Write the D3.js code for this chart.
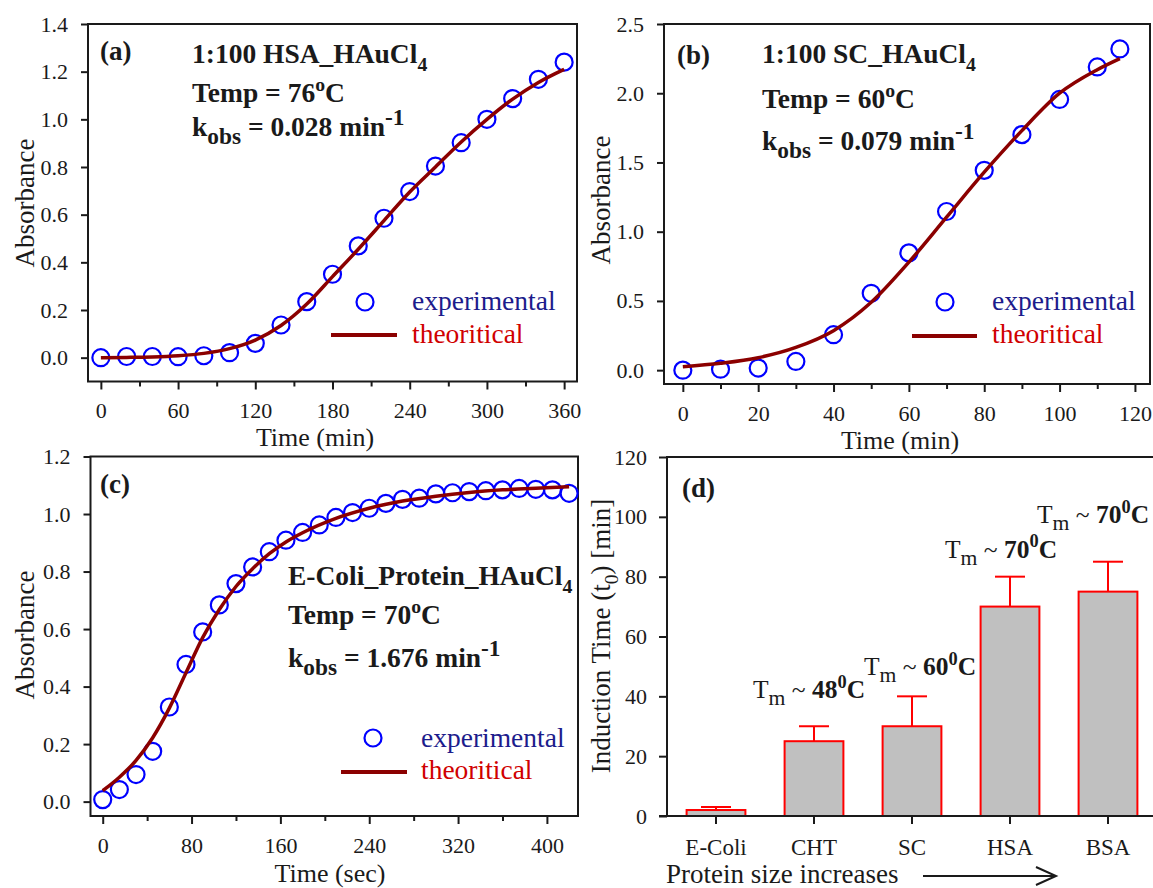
<!DOCTYPE html>
<html>
<head>
<meta charset="utf-8">
<script src="https://cdn.jsdelivr.net/npm/d3@7"></script>
<style>
  body { margin: 0; background: #fff; }
  text { font-family: "Liberation Serif", "Times New Roman", serif; }
</style>
</head>
<body>
<div id="chart"></div>
<script>
// ---- data ----
// (a) HSA
var timeA = [0, 20, 40, 60, 80, 100, 120, 140, 160, 180, 200, 220, 240, 260, 280, 300, 320, 340, 360];
var absA = [0.0, 0.005, 0.005, 0.004, 0.008, 0.021, 0.06, 0.137, 0.235, 0.35, 0.469, 0.585, 0.697, 0.804, 0.902, 1.0, 1.087, 1.168, 1.24];
var fitTimeA = [0, 20, 40, 60, 80, 100, 120, 140, 160, 180, 200, 220, 240, 260, 280, 300, 320, 340, 360];
var fitA = [0.0, 0.001, 0.003, 0.008, 0.018, 0.038, 0.074, 0.135, 0.225, 0.34, 0.455, 0.575, 0.695, 0.8, 0.905, 1.0, 1.085, 1.155, 1.21];

// (b) SC
var timeB = [0, 10, 20, 30, 40, 50, 60, 70, 80, 90, 100, 110, 116];
var absB = [0.0, 0.007, 0.015, 0.063, 0.256, 0.555, 0.847, 1.146, 1.443, 1.701, 1.955, 2.19, 2.32];
var fitTimeB = [0, 10, 20, 30, 40, 50, 60, 70, 80, 90, 100, 110, 116];
var fitB = [0.025, 0.05, 0.09, 0.164, 0.285, 0.49, 0.78, 1.105, 1.43, 1.73, 2.0, 2.17, 2.25];

// (c) E-Coli
var timeC = [0, 15, 30, 45, 60, 75, 90, 105, 120, 135, 150, 165, 180, 195, 210, 225, 240, 255, 270, 285, 300, 315, 330, 345, 360, 375, 390, 405, 420];
var absC = [0.007, 0.042, 0.094, 0.175, 0.329, 0.477, 0.59, 0.684, 0.758, 0.816, 0.869, 0.909, 0.936, 0.962, 0.988, 1.005, 1.02, 1.037, 1.051, 1.055, 1.07, 1.074, 1.078, 1.081, 1.084, 1.089, 1.086, 1.084, 1.072];
var fitTimeC = [0, 15, 30, 45, 60, 75, 90, 105, 120, 135, 150, 165, 180, 210, 240, 270, 300, 330, 360, 390, 420];
var fitC = [0.038, 0.085, 0.143, 0.222, 0.325, 0.448, 0.57, 0.668, 0.748, 0.81, 0.862, 0.903, 0.935, 0.985, 1.02, 1.045, 1.062, 1.075, 1.084, 1.09, 1.095];

// (d) induction time
var proteins = ["E-Coli", "CHT", "SC", "HSA", "BSA"];
var inductionTime = [2, 25, 30, 70, 75];
var inductionErr = [1, 5, 10, 10, 10];
var tmValues = [null, "48", "60", "70", "70"];

var ticksA = [0, 60, 120, 180, 240, 300, 360];
var ticksB = [0, 20, 40, 60, 80, 100, 120];
var ticksC = [0, 80, 160, 240, 320, 400];

// ---- drawing ----
var svg = d3.select("#chart").append("svg")
  .attr("width", 1153)
  .attr("height", 888);

var ink = "#1a1a1a";

function rich(sel, x, y, parts, size, weight, fill) {
  var t = sel.append("text")
    .attr("x", x).attr("y", y)
    .attr("font-size", size)
    .attr("font-weight", weight)
    .attr("fill", fill);
  var shift = 0;
  parts.forEach(function (p) {
    var kind = p[1];
    var target = kind === "sub" ? size * 0.28 : kind === "sup" ? -size * 0.4 : 0;
    var ts = t.append("tspan").attr("dy", target - shift).text(p[0]);
    if (kind) ts.attr("font-size", size * (p[3] || 0.72));
    if (p[2]) ts.attr("font-weight", p[2]);
    shift = target;
  });
  return t;
}

function styleAxis(g, size) {
  g.select(".domain").remove();
  g.selectAll("line").attr("stroke", ink).attr("stroke-width", 2);
  g.selectAll("text")
    .attr("font-family", "Liberation Serif")
    .attr("font-size", size)
    .attr("fill", ink);
}

function kineticsPanel(cfg) {
  var x = d3.scaleLinear().domain(cfg.xDomain).range(cfg.xRange);
  var y = d3.scaleLinear().domain(cfg.yDomain).range(cfg.yRange);
  var g = svg.append("g");

  // minor x ticks
  var gMinor = g.append("g")
    .attr("transform", "translate(0," + cfg.yRange[0] + ")")
    .call(d3.axisBottom(x).tickValues(cfg.minorTicks).tickSize(5).tickFormat(""));
  styleAxis(gMinor, 22);

  var gx = g.append("g")
    .attr("transform", "translate(0," + cfg.yRange[0] + ")")
    .call(d3.axisBottom(x).tickValues(cfg.xTicks).tickSize(8).tickPadding(13).tickFormat(d3.format("d")));
  styleAxis(gx, 22);

  var gy = g.append("g")
    .attr("transform", "translate(" + cfg.xRange[0] + ",0)")
    .call(d3.axisLeft(y).tickValues(cfg.yTicks).tickSize(7).tickPadding(13).tickFormat(d3.format(".1f")));
  styleAxis(gy, 22);

  // frame
  g.append("rect")
    .attr("x", cfg.xRange[0]).attr("y", cfg.yRange[1])
    .attr("width", cfg.xRange[1] - cfg.xRange[0])
    .attr("height", cfg.yRange[0] - cfg.yRange[1])
    .attr("fill", "none").attr("stroke", ink).attr("stroke-width", 2);

  // points
  g.selectAll("circle.pt")
    .data(cfg.t.map(function (d, i) { return [d, cfg.v[i]]; }))
    .enter().append("circle")
    .attr("class", "pt")
    .attr("cx", function (d) { return x(d[0]); })
    .attr("cy", function (d) { return y(d[1]); })
    .attr("r", 8.5)
    .attr("fill", "none")
    .attr("stroke", "#0000ff")
    .attr("stroke-width", 2.2);

  // fitted curve
  var line = d3.line()
    .x(function (d) { return x(d[0]); })
    .y(function (d) { return y(d[1]); })
    .curve(d3.curveMonotoneX);
  g.append("path")
    .datum(cfg.ft.map(function (d, i) { return [d, cfg.fv[i]]; }))
    .attr("d", line)
    .attr("fill", "none")
    .attr("stroke", "#8b0000")
    .attr("stroke-width", 3.5);

  // axis titles
  g.append("text")
    .attr("x", cfg.xTitle[0]).attr("y", cfg.xTitle[1])
    .attr("text-anchor", "middle")
    .attr("font-size", 26).attr("fill", ink)
    .text(cfg.xLabel);
  g.append("text")
    .attr("transform", "translate(" + cfg.yTitle[0] + "," + cfg.yTitle[1] + ") rotate(-90)")
    .attr("text-anchor", "middle")
    .attr("font-size", 27).attr("fill", ink)
    .text("Absorbance");

  // panel letter + annotations
  g.append("text")
    .attr("x", cfg.letterPos[0]).attr("y", cfg.letterPos[1])
    .attr("font-size", 27).attr("font-weight", "bold").attr("fill", ink)
    .text(cfg.letter);

  var ax = cfg.notePos[0];
  rich(g, ax, cfg.notePos[1], [[cfg.title, ""], [cfg.titleSub, "sub"]], 27.5, "bold", ink);
  rich(g, ax, cfg.notePos[2], [["Temp = " + cfg.temp, ""], ["o", "sup"], ["C", ""]], 27.5, "bold", ink);
  rich(g, ax, cfg.notePos[3], [["k", ""], ["obs", "sub", null, 0.85], [" = " + cfg.kobs + " min", ""], ["-1", "sup", null, 0.85]], 27.5, "bold", ink);

  // legend
  var L = cfg.legend;
  g.append("circle")
    .attr("cx", L.cx).attr("cy", L.cy).attr("r", 8.5)
    .attr("fill", "none").attr("stroke", "#0000ff").attr("stroke-width", 2.2);
  g.append("text")
    .attr("x", L.tx).attr("y", L.ty1)
    .attr("font-size", 27.5).attr("fill", "#1c1c8c")
    .text("experimental");
  g.append("line")
    .attr("x1", L.lx1).attr("x2", L.lx2).attr("y1", L.ly).attr("y2", L.ly)
    .attr("stroke", "#8b0000").attr("stroke-width", 4);
  g.append("text")
    .attr("x", L.tx).attr("y", L.ty2)
    .attr("font-size", 27.5).attr("fill", "#d00000")
    .text("theoritical");
}

kineticsPanel({
  t: timeA, v: absA, ft: fitTimeA, fv: fitA,
  xDomain: [-10, 370], xRange: [88, 577],
  yDomain: [-0.1, 1.4], yRange: [381.5, 24],
  xTicks: ticksA, minorTicks: [30, 90, 150, 210, 270, 330],
  yTicks: d3.range(0, 1.41, 0.2),
  xLabel: "Time (min)", xTitle: [315, 446], yTitle: [34, 203],
  letter: "(a)", letterPos: [100, 60],
  title: "1:100 HSA_HAuCl", titleSub: "4", temp: "76", kobs: "0.028",
  notePos: [192, 63, 102, 136],
  legend: { cx: 365, cy: 302, tx: 412, ty1: 310, ty2: 343, lx1: 331, lx2: 397, ly: 335 }
});

kineticsPanel({
  t: timeB, v: absB, ft: fitTimeB, fv: fitB,
  xDomain: [-5, 124], xRange: [664, 1150],
  yDomain: [-0.1, 2.5], yRange: [384, 24],
  xTicks: ticksB, minorTicks: [10, 30, 50, 70, 90, 110],
  yTicks: [0, 0.5, 1.0, 1.5, 2.0, 2.5],
  xLabel: "Time (min)", xTitle: [900, 448.5], yTitle: [610, 200],
  letter: "(b)", letterPos: [677, 64],
  title: "1:100 SC_HAuCl", titleSub: "4", temp: "60", kobs: "0.079",
  notePos: [762, 63, 108, 150],
  legend: { cx: 945, cy: 302, tx: 992, ty1: 310, ty2: 343, lx1: 912, lx2: 977, ly: 336 }
});

kineticsPanel({
  t: timeC, v: absC, ft: fitTimeC, fv: fitC,
  xDomain: [-11, 428], xRange: [90.5, 578],
  yDomain: [-0.05, 1.2], yRange: [816, 456.5],
  xTicks: ticksC, minorTicks: [40, 120, 200, 280, 360],
  yTicks: d3.range(0, 1.21, 0.2),
  xLabel: "Time (sec)", xTitle: [330, 882], yTitle: [34, 635],
  letter: "(c)", letterPos: [100, 493],
  title: "E-Coli_Protein_HAuCl", titleSub: "4", temp: "70", kobs: "1.676",
  notePos: [288, 585, 624, 667],
  legend: { cx: 373, cy: 738, tx: 421, ty1: 747, ty2: 779, lx1: 341, lx2: 407, ly: 772 }
});

// ---- panel (d): bars ----
var xd = d3.scaleBand().domain(proteins).range([667, 1157]).paddingInner(0.4).paddingOuter(0.2);
var yd = d3.scaleLinear().domain([0, 120]).range([816, 457]);
var gd = svg.append("g");

var gdx = gd.append("g")
  .attr("transform", "translate(0,816)")
  .call(d3.axisBottom(xd).tickSize(8).tickPadding(15));
styleAxis(gdx, 23);

var gdy = gd.append("g")
  .attr("transform", "translate(667,0)")
  .call(d3.axisLeft(yd).tickValues(d3.range(0, 121, 20)).tickSize(8).tickPadding(12));
styleAxis(gdy, 22);

gd.append("rect")
  .attr("x", 667).attr("y", 457)
  .attr("width", 500).attr("height", 359)
  .attr("fill", "none").attr("stroke", ink).attr("stroke-width", 2);

var barData = proteins.map(function (p, i) {
  return { name: p, v: inductionTime[i], e: inductionErr[i], tm: tmValues[i] };
});

// error bars (upper only)
gd.selectAll("line.err")
  .data(barData).enter().append("line")
  .attr("x1", function (d) { return xd(d.name) + xd.bandwidth() / 2; })
  .attr("x2", function (d) { return xd(d.name) + xd.bandwidth() / 2; })
  .attr("y1", function (d) { return yd(d.v); })
  .attr("y2", function (d) { return yd(d.v + d.e); })
  .attr("stroke", "#ff0000").attr("stroke-width", 2);
gd.selectAll("line.cap")
  .data(barData).enter().append("line")
  .attr("x1", function (d) { return xd(d.name) + xd.bandwidth() / 2 - 15; })
  .attr("x2", function (d) { return xd(d.name) + xd.bandwidth() / 2 + 15; })
  .attr("y1", function (d) { return yd(d.v + d.e); })
  .attr("y2", function (d) { return yd(d.v + d.e); })
  .attr("stroke", "#ff0000").attr("stroke-width", 2);

gd.selectAll("rect.bar")
  .data(barData).enter().append("rect")
  .attr("class", "bar")
  .attr("x", function (d) { return xd(d.name); })
  .attr("y", function (d) { return yd(d.v); })
  .attr("width", xd.bandwidth())
  .attr("height", function (d) { return yd(0) - yd(d.v); })
  .attr("fill", "#c0c0c0")
  .attr("stroke", "#ff0000")
  .attr("stroke-width", 2);

// redraw baseline over the bars
gd.append("line")
  .attr("x1", 659).attr("x2", 1153).attr("y1", 816).attr("y2", 816)
  .attr("stroke", ink).attr("stroke-width", 2);

// Tm labels, offset from the top of each error bar
var tmOffsets = [null, [-61, -28], [-48, -21], [-65, -19], [-71, -39]];
barData.forEach(function (d, i) {
  if (!d.tm) return;
  var cx = xd(d.name) + xd.bandwidth() / 2 + tmOffsets[i][0];
  var cy = yd(d.v + d.e) + tmOffsets[i][1];
  rich(gd, cx, cy, [["T", "", "normal"], ["m", "sub", "normal", 0.85], [" ~ ", "", "normal"],
    [d.tm, "", "bold"], ["0", "sup", "bold", 0.72], ["C", "", "bold"]], 25.5, "bold", ink);
});

gd.append("text")
  .attr("x", 682).attr("y", 497)
  .attr("font-size", 27).attr("font-weight", "bold").attr("fill", ink)
  .text("(d)");

rich(gd, 0, 0, [["Induction Time (t", ""], ["0", "sub"], [") [min]", ""]], 27, "normal", ink)
  .attr("transform", "translate(610,636) rotate(-90)")
  .attr("text-anchor", "middle");

gd.append("text")
  .attr("x", 666).attr("y", 883)
  .attr("font-size", 27).attr("fill", ink)
  .text("Protein size increases");

gd.append("line")
  .attr("x1", 923).attr("x2", 1055).attr("y1", 876).attr("y2", 876)
  .attr("stroke", ink).attr("stroke-width", 2);
gd.append("path")
  .attr("d", "M1036,867 L1056,876 L1036,885")
  .attr("fill", "none").attr("stroke", ink).attr("stroke-width", 2);
</script>
</body>
</html>
